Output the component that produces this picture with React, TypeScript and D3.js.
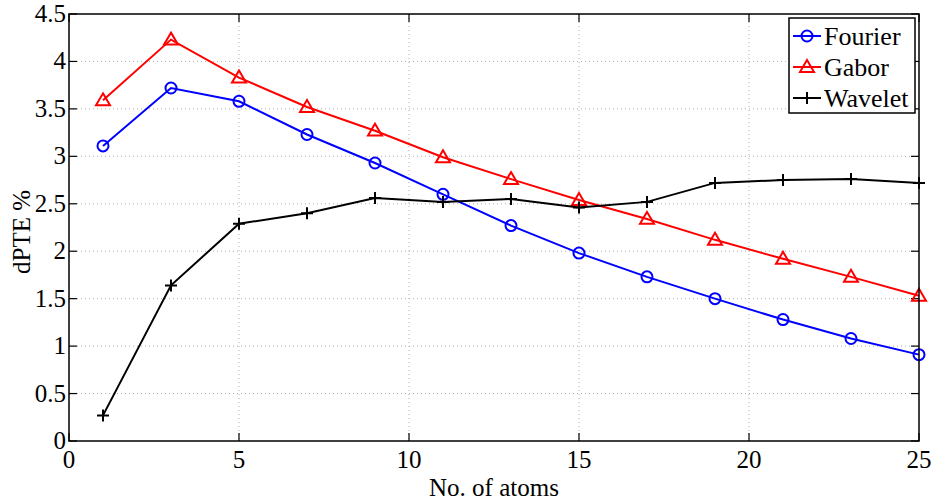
import React from "react";
import * as d3 from "d3";

// number of atoms on the x axis
const atoms = [1, 3, 5, 7, 9, 11, 13, 15, 17, 19, 21, 23, 25];

// dPTE % per transform
const fourier = [3.11, 3.72, 3.58, 3.23, 2.93, 2.6, 2.27, 1.98, 1.73, 1.5, 1.28, 1.08, 0.91];
const gabor = [3.59, 4.23, 3.83, 3.52, 3.27, 2.99, 2.76, 2.54, 2.34, 2.12, 1.92, 1.73, 1.53];
const wavelet = [0.27, 1.64, 2.29, 2.4, 2.56, 2.52, 2.55, 2.46, 2.52, 2.72, 2.75, 2.76, 2.72];

const xTicks = [0, 5, 10, 15, 20, 25];
const yTicks = [0, 0.5, 1, 1.5, 2, 2.5, 3, 3.5, 4, 4.5];

const seriesNames = ["Fourier", "Gabor", "Wavelet"];
const seriesColors = ["#0000ff", "#ff0000", "#000000"];
const seriesMarkers = ["circle", "triangle", "plus"];

const W = 936;
const H = 502;
const margin = { top: 14, right: 17, bottom: 61, left: 69 };
const font = "Liberation Serif";

function Marker({ kind, x, y, color }: { kind: string; x: number; y: number; color: string }) {
  if (kind === "circle") {
    return <circle cx={x} cy={y} r={5.5} fill="none" stroke={color} strokeWidth={2} />;
  }
  if (kind === "triangle") {
    const s = 7;
    return (
      <path
        d={`M${x},${y - s}L${x + s},${y + s * 0.7}L${x - s},${y + s * 0.7}Z`}
        fill="none"
        stroke={color}
        strokeWidth={2}
      />
    );
  }
  const s = 6;
  return (
    <path d={`M${x - s},${y}H${x + s}M${x},${y - s}V${y + s}`} stroke={color} strokeWidth={2} />
  );
}

export default function App() {
  const innerW = W - margin.left - margin.right;
  const innerH = H - margin.top - margin.bottom;

  const x = d3.scaleLinear().domain([0, 25]).range([margin.left, margin.left + innerW]);
  const y = d3.scaleLinear().domain([0, 4.5]).range([margin.top + innerH, margin.top]);

  const series = [fourier, gabor, wavelet];
  const line = d3
    .line<number>()
    .x((_, i) => x(atoms[i]))
    .y((d) => y(d));

  const x0 = margin.left;
  const x1 = margin.left + innerW;
  const y0 = margin.top + innerH;
  const y1 = margin.top;
  const tick = 8;

  // legend box
  const lg = { x: 789, y: 18, w: 126, h: 95 };
  const rowY = [36, 67, 98];

  return (
    <svg
      width={W}
      height={H}
      style={{ position: "absolute", left: 0, top: 0, background: "#fff", fontFamily: font }}
    >
      {/* grid */}
      <g stroke="#b0b0b0" strokeWidth={1} strokeDasharray="1,3">
        {xTicks.slice(1, -1).map((t) => (
          <line key={"gx" + t} x1={x(t)} x2={x(t)} y1={y1} y2={y0} />
        ))}
        {yTicks.slice(1, -1).map((t) => (
          <line key={"gy" + t} x1={x0} x2={x1} y1={y(t)} y2={y(t)} />
        ))}
      </g>

      {/* ticks */}
      <g stroke="#000" strokeWidth={1.2}>
        {xTicks.map((t) => (
          <g key={"tx" + t}>
            <line x1={x(t)} x2={x(t)} y1={y0} y2={y0 - tick} />
            <line x1={x(t)} x2={x(t)} y1={y1} y2={y1 + tick} />
          </g>
        ))}
        {yTicks.map((t) => (
          <g key={"ty" + t}>
            <line x1={x0} x2={x0 + tick} y1={y(t)} y2={y(t)} />
            <line x1={x1} x2={x1 - tick} y1={y(t)} y2={y(t)} />
          </g>
        ))}
      </g>

      {/* tick labels */}
      <g fill="#000">
        {xTicks.map((t) => (
          <text key={"lx" + t} x={x(t)} y={y0 + 27} textAnchor="middle" fontFamily={font} fontSize={25}>
            {t}
          </text>
        ))}
        {yTicks.map((t) => (
          <text key={"ly" + t} x={x0 - 3} y={y(t) + 8} textAnchor="end" fontFamily={font} fontSize={25}>
            {t}
          </text>
        ))}
      </g>

      {/* axis labels */}
      <text x={(x0 + x1) / 2} y={496} textAnchor="middle" fontFamily={font} fontSize={25}>
        No. of atoms
      </text>
      <text
        transform={`translate(30,232) rotate(-90)`}
        textAnchor="middle"
        fontFamily={font}
        fontSize={25}
      >
        dPTE %
      </text>

      {/* lines */}
      {series.map((s, k) => (
        <g key={seriesNames[k]}>
          <path d={line(s) || ""} fill="none" stroke={seriesColors[k]} strokeWidth={2} />
          {s.map((v, i) => (
            <Marker key={i} kind={seriesMarkers[k]} x={x(atoms[i])} y={y(v)} color={seriesColors[k]} />
          ))}
        </g>
      ))}

      {/* axes box */}
      <rect x={x0} y={y1} width={innerW} height={innerH} fill="none" stroke="#000" strokeWidth={1.5} />

      {/* legend */}
      <g>
        <rect x={lg.x} y={lg.y} width={lg.w} height={lg.h} fill="#fff" stroke="#000" strokeWidth={1.5} />
        {seriesNames.map((n, k) => (
          <g key={"lg" + n}>
            <line x1={lg.x + 4} x2={lg.x + 32} y1={rowY[k]} y2={rowY[k]} stroke={seriesColors[k]} strokeWidth={2} />
            <Marker kind={seriesMarkers[k]} x={lg.x + 18} y={rowY[k]} color={seriesColors[k]} />
            <text x={lg.x + 35} y={rowY[k] + 9} fontFamily={font} fontSize={26}>
              {n}
            </text>
          </g>
        ))}
      </g>
    </svg>
  );
}
